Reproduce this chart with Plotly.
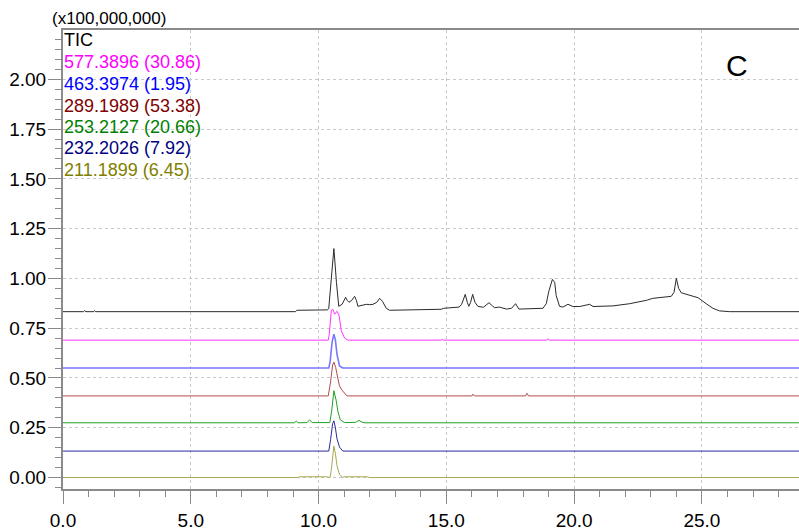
import plotly.graph_objects as go

# Retention time (min) / intensity (x1e8) points for each stacked chromatogram
tic_t = [0, 0.8, 0.84, 0.9, 1.2, 1.23, 1.28, 9.1, 9.15, 10.35, 10.40, 10.48, 10.60, 10.70, 10.79,
         10.92, 11.06, 11.12, 11.19, 11.30, 11.41, 11.48, 11.54, 11.70, 11.87, 12.0, 12.13, 12.28,
         12.39, 12.5, 12.65, 12.78, 13.5, 14.8, 14.9, 15.5, 15.6, 15.74, 15.82, 15.88, 15.95, 16.03,
         16.12, 16.23, 16.45, 16.67, 16.8, 16.89, 17.08, 17.35, 17.55, 17.71, 17.84, 18.78, 18.91,
         19.01, 19.15, 19.24, 19.30, 19.43, 19.56, 19.76, 19.95, 20.22, 20.61, 20.74, 21.52, 22.17,
         22.83, 23.08, 23.80, 23.91, 24.0, 24.09, 24.19, 24.52, 24.85, 25.17, 25.43, 25.69, 26.09, 28.8]
tic_y = [0.833, 0.833, 0.838, 0.833, 0.833, 0.838, 0.833, 0.833, 0.84, 0.842, 0.85, 0.98, 1.15, 0.98,
         0.86, 0.87, 0.905, 0.89, 0.88, 0.89, 0.91, 0.89, 0.86, 0.865, 0.87, 0.868, 0.87, 0.88, 0.90,
         0.885, 0.85, 0.84, 0.843, 0.845, 0.85, 0.856, 0.87, 0.92, 0.88, 0.86, 0.88, 0.92, 0.88, 0.86,
         0.855, 0.878, 0.862, 0.853, 0.856, 0.846, 0.85, 0.873, 0.846, 0.85, 0.873, 0.935, 0.995, 0.98,
         0.913, 0.86, 0.856, 0.87, 0.859, 0.859, 0.87, 0.859, 0.862, 0.873, 0.89, 0.90, 0.91, 0.93,
         1.00, 0.95, 0.928, 0.915, 0.903, 0.873, 0.85, 0.837, 0.833, 0.833]

mz577_t = [0, 10.38, 10.42, 10.50, 10.56, 10.63, 10.72, 10.80, 10.89, 10.95, 11.02, 11.15,
           14.8, 14.84, 14.88, 18.92, 18.98, 19.04, 28.8]
mz577_y = [0.69, 0.69, 0.72, 0.84, 0.845, 0.82, 0.835, 0.815, 0.737, 0.715, 0.70, 0.69,
           0.69, 0.695, 0.69, 0.69, 0.697, 0.69, 0.69]

mz463_t = [0, 10.40, 10.45, 10.53, 10.60, 10.66, 10.72, 10.82, 10.95, 28.8]
mz463_y = [0.55, 0.55, 0.58, 0.68, 0.72, 0.69, 0.62, 0.56, 0.55, 0.55]

mz289_t = [0, 10.38, 10.47, 10.55, 10.60, 10.67, 10.76, 10.82, 10.91, 11.02, 11.11,
           16.0, 16.04, 16.1, 18.1, 18.15, 18.22, 28.8]
mz289_y = [0.41, 0.41, 0.48, 0.565, 0.58, 0.553, 0.495, 0.46, 0.44, 0.42, 0.41,
           0.41, 0.419, 0.41, 0.41, 0.423, 0.41, 0.41]

mz253_t = [0, 9.05, 9.13, 9.2, 9.55, 9.65, 9.75, 10.44, 10.52, 10.60, 10.69, 10.76, 10.85,
           11.02, 11.45, 11.58, 11.70, 11.80, 28.8]
mz253_y = [0.275, 0.275, 0.283, 0.275, 0.276, 0.29, 0.276, 0.276, 0.34, 0.436, 0.387, 0.33, 0.29,
           0.276, 0.277, 0.287, 0.278, 0.275, 0.275]

mz232_t = [0, 10.40, 10.47, 10.55, 10.60, 10.66, 10.72, 10.82, 10.95, 28.8]
mz232_y = [0.133, 0.133, 0.19, 0.27, 0.285, 0.25, 0.195, 0.153, 0.133, 0.133]

mz211_t = [0, 9.2, 9.25, 10.3, 10.45, 10.50, 10.60, 10.66, 10.72, 10.82, 10.95, 11.0, 11.9, 12.0, 28.8]
mz211_y = [0.0, 0.0, 0.004, 0.004, 0.0, 0.04, 0.158, 0.12, 0.06, 0.016, 0.0, 0.004, 0.004, 0.0, 0.0]

labels = ["TIC", "577.3896 (30.86)", "463.3974 (1.95)", "289.1989 (53.38)",
          "253.2127 (20.66)", "232.2026 (7.92)", "211.1899 (6.45)"]
label_colors = ["#000000", "#ff00ff", "#0000ff", "#800000", "#008000", "#000080", "#808000"]
line_colors = ["#2b2b2b", "#ff33ff", "#7878ff", "#b24c4c", "#22a022", "#2a2aa0", "#a8a850"]
line_widths = [1, 1, 1.6, 1, 1, 1, 1]

series = [(tic_t, tic_y), (mz577_t, mz577_y), (mz463_t, mz463_y), (mz289_t, mz289_y),
          (mz253_t, mz253_y), (mz232_t, mz232_y), (mz211_t, mz211_y)]

FONT = "Liberation Sans, Arial, sans-serif"

fig = go.Figure()
for (t, y), name, c, w in zip(series, labels, line_colors, line_widths):
    fig.add_trace(go.Scatter(x=t, y=y, mode="lines", name=name,
                             line=dict(color=c, width=w), hoverinfo="skip"))

W, H = 799, 531
ml, mr, mt, mb = 63, 0, 30, 40
plot_h = H - mt - mb
plot_w = W - ml - mr

def ypaper(py):
    return (H - mb - py) / plot_h

# stacked trace labels in the upper-left corner
label_centers = [40, 62.5, 84, 106, 127.7, 149, 170.7]
for text, col, py in zip(labels, label_colors, label_centers):
    fig.add_annotation(text=text, xref="paper", yref="paper", x=0.0, y=ypaper(py),
                       xanchor="left", yanchor="middle", showarrow=False,
                       font=dict(family=FONT, size=18, color=col), borderpad=0)

fig.add_annotation(text="(x100,000,000)", xref="paper", yref="paper",
                   x=(51 - ml) / plot_w, y=ypaper(18), xanchor="left", yanchor="middle",
                   showarrow=False, font=dict(family=FONT, size=17, color="#000000"), borderpad=0)

fig.add_annotation(text="C", xref="paper", yref="paper",
                   x=(737 - ml) / plot_w, y=ypaper(66), xanchor="center", yanchor="middle",
                   showarrow=False, font=dict(family=FONT, size=30, color="#000000"), borderpad=0)

axis_common = dict(
    showline=True, linecolor="#8a8a8a", linewidth=2,
    ticks="outside", ticklen=13, tickwidth=1, tickcolor="#8a8a8a",
    showgrid=True, gridcolor="#c8c8c8", gridwidth=1, griddash="3px,3px",
    zeroline=False,
    tickfont=dict(family=FONT, size=19, color="#000000"),
)

fig.update_xaxes(range=[0, 28.8], tick0=0, dtick=5, tickformat=".1f", mirror=True,
                 minor=dict(ticks="outside", ticklen=6, dtick=1, tick0=0, tickcolor="#8a8a8a",
                            showgrid=False),
                 **axis_common)
fig.update_yaxes(range=[-0.0575, 2.2475], tick0=0, dtick=0.25, tickformat=".2f",
                 ticklabelstandoff=-2,
                 minor=dict(ticks="outside", ticklen=6, dtick=0.05, tick0=0, tickcolor="#8a8a8a",
                            showgrid=False),
                 **axis_common)

fig.update_layout(width=W, height=H, margin=dict(l=ml, r=mr, t=mt, b=mb, pad=0),
                  plot_bgcolor="#ffffff", paper_bgcolor="#ffffff", showlegend=False)

fig.write_html("out.html")
